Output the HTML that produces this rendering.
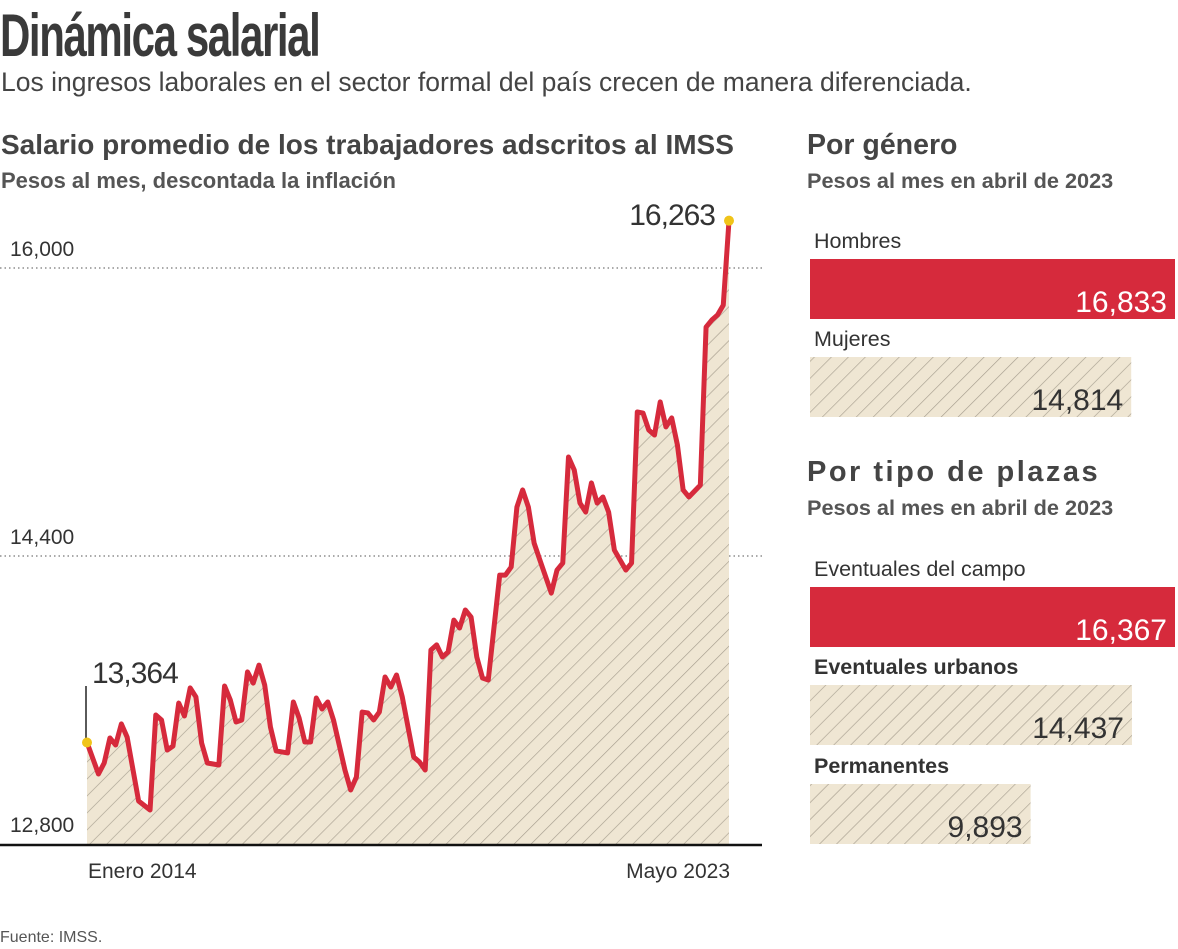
<!DOCTYPE html>
<html><head><meta charset="utf-8">
<style>
body{margin:0;width:1178px;height:949px;background:#fff;overflow:hidden;font-family:"Liberation Sans",sans-serif;color:#333;position:relative}
.t{position:absolute;white-space:nowrap;line-height:1}
</style></head>
<body>
<div class="t" style="left:0;top:6px;font-weight:bold;font-size:60px;color:#3a3a3a;letter-spacing:-2px;transform:scaleX(0.7);transform-origin:0 0">Dinámica salarial</div>
<div class="t" style="left:1px;top:69px;font-size:26.5px;color:#444">Los ingresos laborales en el sector formal del país crecen de manera diferenciada.</div>
<div class="t" style="left:1px;top:131px;font-size:28px;font-weight:bold;color:#444">Salario promedio de los trabajadores adscritos al IMSS</div>
<div class="t" style="left:1px;top:170px;font-size:22px;font-weight:bold;color:#555">Pesos al mes, descontada la inflación</div>
<div class="t" style="left:807px;top:131px;font-size:28.5px;font-weight:bold;color:#444">Por género</div>
<div class="t" style="left:807px;top:170px;font-size:21.7px;font-weight:bold;color:#555">Pesos al mes en abril de 2023</div>
<div class="t" style="left:807px;top:458px;font-size:29px;font-weight:bold;color:#444;letter-spacing:2.5px">Por tipo de plazas</div>
<div class="t" style="left:807px;top:497px;font-size:21.7px;font-weight:bold;color:#555">Pesos al mes en abril de 2023</div>
<div class="t" style="left:0;top:930px;font-size:16px;color:#555">Fuente: IMSS.</div>

<svg id="chart" width="1178" height="949" style="position:absolute;left:0;top:0">
<defs>
<pattern id="hatch" patternUnits="userSpaceOnUse" width="12" height="12" patternTransform="rotate(45)">
<rect width="12" height="12" fill="#efe6d3"/>
<line x1="0" y1="0" x2="0" y2="12" stroke="#a89f90" stroke-width="1.3"/>
</pattern>
</defs>
</svg>

<script>
const months=[0,2,3,4,5,6,7,9,11,12,13,14,15,16,17,18,19,20,21,23,24,25,26,27,28,29,30,31,32,33,35,36,37,38,39,40,41,42,43,45,46,47,48,49,50,51,52,53,54,55,57,58,59,60,61,62,63,64,65,66,67,68,69,70,72,73,74,75,76,77,78,79,81,82,83,84,85,86,87,88,89,90,91,92,94,95,96,97,98,99,100,101,102,103,104,105,107,108,109,110,111,112];
const salary=[13364,13189,13250,13389,13350,13467,13394,13039,12989,13517,13489,13322,13344,13583,13511,13667,13617,13361,13250,13239,13678,13600,13478,13489,13756,13694,13794,13683,13450,13317,13306,13589,13500,13367,13367,13611,13550,13589,13489,13211,13100,13172,13533,13528,13489,13533,13728,13672,13739,13617,13283,13256,13211,13878,13906,13839,13867,14044,14000,14100,14061,13839,13722,13711,14294,14294,14339,14672,14767,14672,14472,14378,14194,14322,14361,14950,14878,14694,14644,14806,14694,14728,14644,14433,14322,14361,15200,15194,15100,15072,15256,15117,15167,15017,14767,14728,14794,15672,15711,15739,15794,16263];
const yTicks=[12800,14400,16000];
const yTickLabels=["12,800","14,400","16,000"];
const xLabels=["Enero 2014","Mayo 2023"];
const genderCats=["Hombres","Mujeres"];
const genderVals=[16833,14814];
const plazaCats=["Eventuales del campo","Eventuales urbanos","Permanentes"];
const plazaVals=[16367,14437,9893];

const NS="http://www.w3.org/2000/svg";
const svg=document.getElementById('chart');
const X=m=>87+m*(642/112);
const Y=v=>844-(v-12800)*(288/1600);
function mk(t,a,txt){const e=document.createElementNS(NS,t);for(const k in a)e.setAttribute(k,a[k]);if(txt!==undefined)e.textContent=txt;svg.appendChild(e);return e;}
const fmt=v=>v.toLocaleString('en-US');

yTicks.forEach((v,i)=>{
  if(v>12800){const g=mk('line',{x1:0,x2:765,y1:Y(v),y2:Y(v),stroke:'#777','stroke-width':1.3,'stroke-dasharray':'1.5 3'});
  
  }
  const t=mk('text',{x:10,y:Y(v)-12,'font-size':21,fill:'#333','font-family':'Liberation Sans'},yTickLabels[i]);
  
  
});
let d='M'+X(months[0])+','+Y(12800);
months.forEach((m,i)=>{d+=' L'+X(m)+','+Y(salary[i]);});
d+=' L'+X(months[months.length-1])+','+Y(12800)+' Z';
const area=mk('path',{d:d,fill:'url(#hatch)'});


const base=mk('line',{x1:0,x2:762,y1:845,y2:845,stroke:'#111','stroke-width':2.5});


const pts=months.map((m,i)=>X(m)+','+Y(salary[i])).join(' ');
const ln=mk('polyline',{points:pts,fill:'none',stroke:'#d62a3c','stroke-width':5,'stroke-linejoin':'round'});


const first=salary[0],last=salary[salary.length-1];
const vl=mk('line',{x1:86,x2:86,y1:686,y2:Y(first),stroke:'#222','stroke-width':1.5});


const d1=mk('circle',{cx:X(months[0]),cy:Y(first),r:5,fill:'#f0c419'});


const d2=mk('circle',{cx:X(months[months.length-1]),cy:Y(last),r:5,fill:'#f0c419'});


const a1=mk('text',{x:92,y:683,'font-size':30,fill:'#333','font-family':'Liberation Sans','letter-spacing':'-1'},fmt(first));


const a2=mk('text',{x:715,y:225,'font-size':30,fill:'#333','text-anchor':'end','font-family':'Liberation Sans','letter-spacing':'-1'},fmt(last));


const xl1=mk('text',{x:88,y:878,'font-size':21,fill:'#333','font-family':'Liberation Sans'},xLabels[0]);


const xl2=mk('text',{x:730,y:878,'font-size':21,fill:'#333','text-anchor':'end','font-family':'Liberation Sans'},xLabels[1]);



function bars(cats,vals,tops,bold){
  const max=Math.max(...vals);
  cats.forEach((c,i)=>{
    const w=vals[i]/max*365, top=tops[i], red=(vals[i]===max);
    const lab=mk('text',{x:814,y:top-11,'font-size':21.5,fill:'#333','font-family':'Liberation Sans','font-weight':bold[i]?'bold':'normal'},c);
    
    
    const r=mk('rect',{x:810,y:top,width:w,height:60,fill:red?'#d62a3c':'url(#hatch)'});
    
    
    const v=mk('text',{x:810+w-8,y:top+53,'font-size':30,fill:red?'#fff':'#333','text-anchor':'end','font-family':'Liberation Sans'},fmt(vals[i]));
    
    
  });
}
bars(genderCats,genderVals,[259,357],[false,false]);
bars(plazaCats,plazaVals,[587,685,784],[false,true,true]);
</script>
</body></html>
